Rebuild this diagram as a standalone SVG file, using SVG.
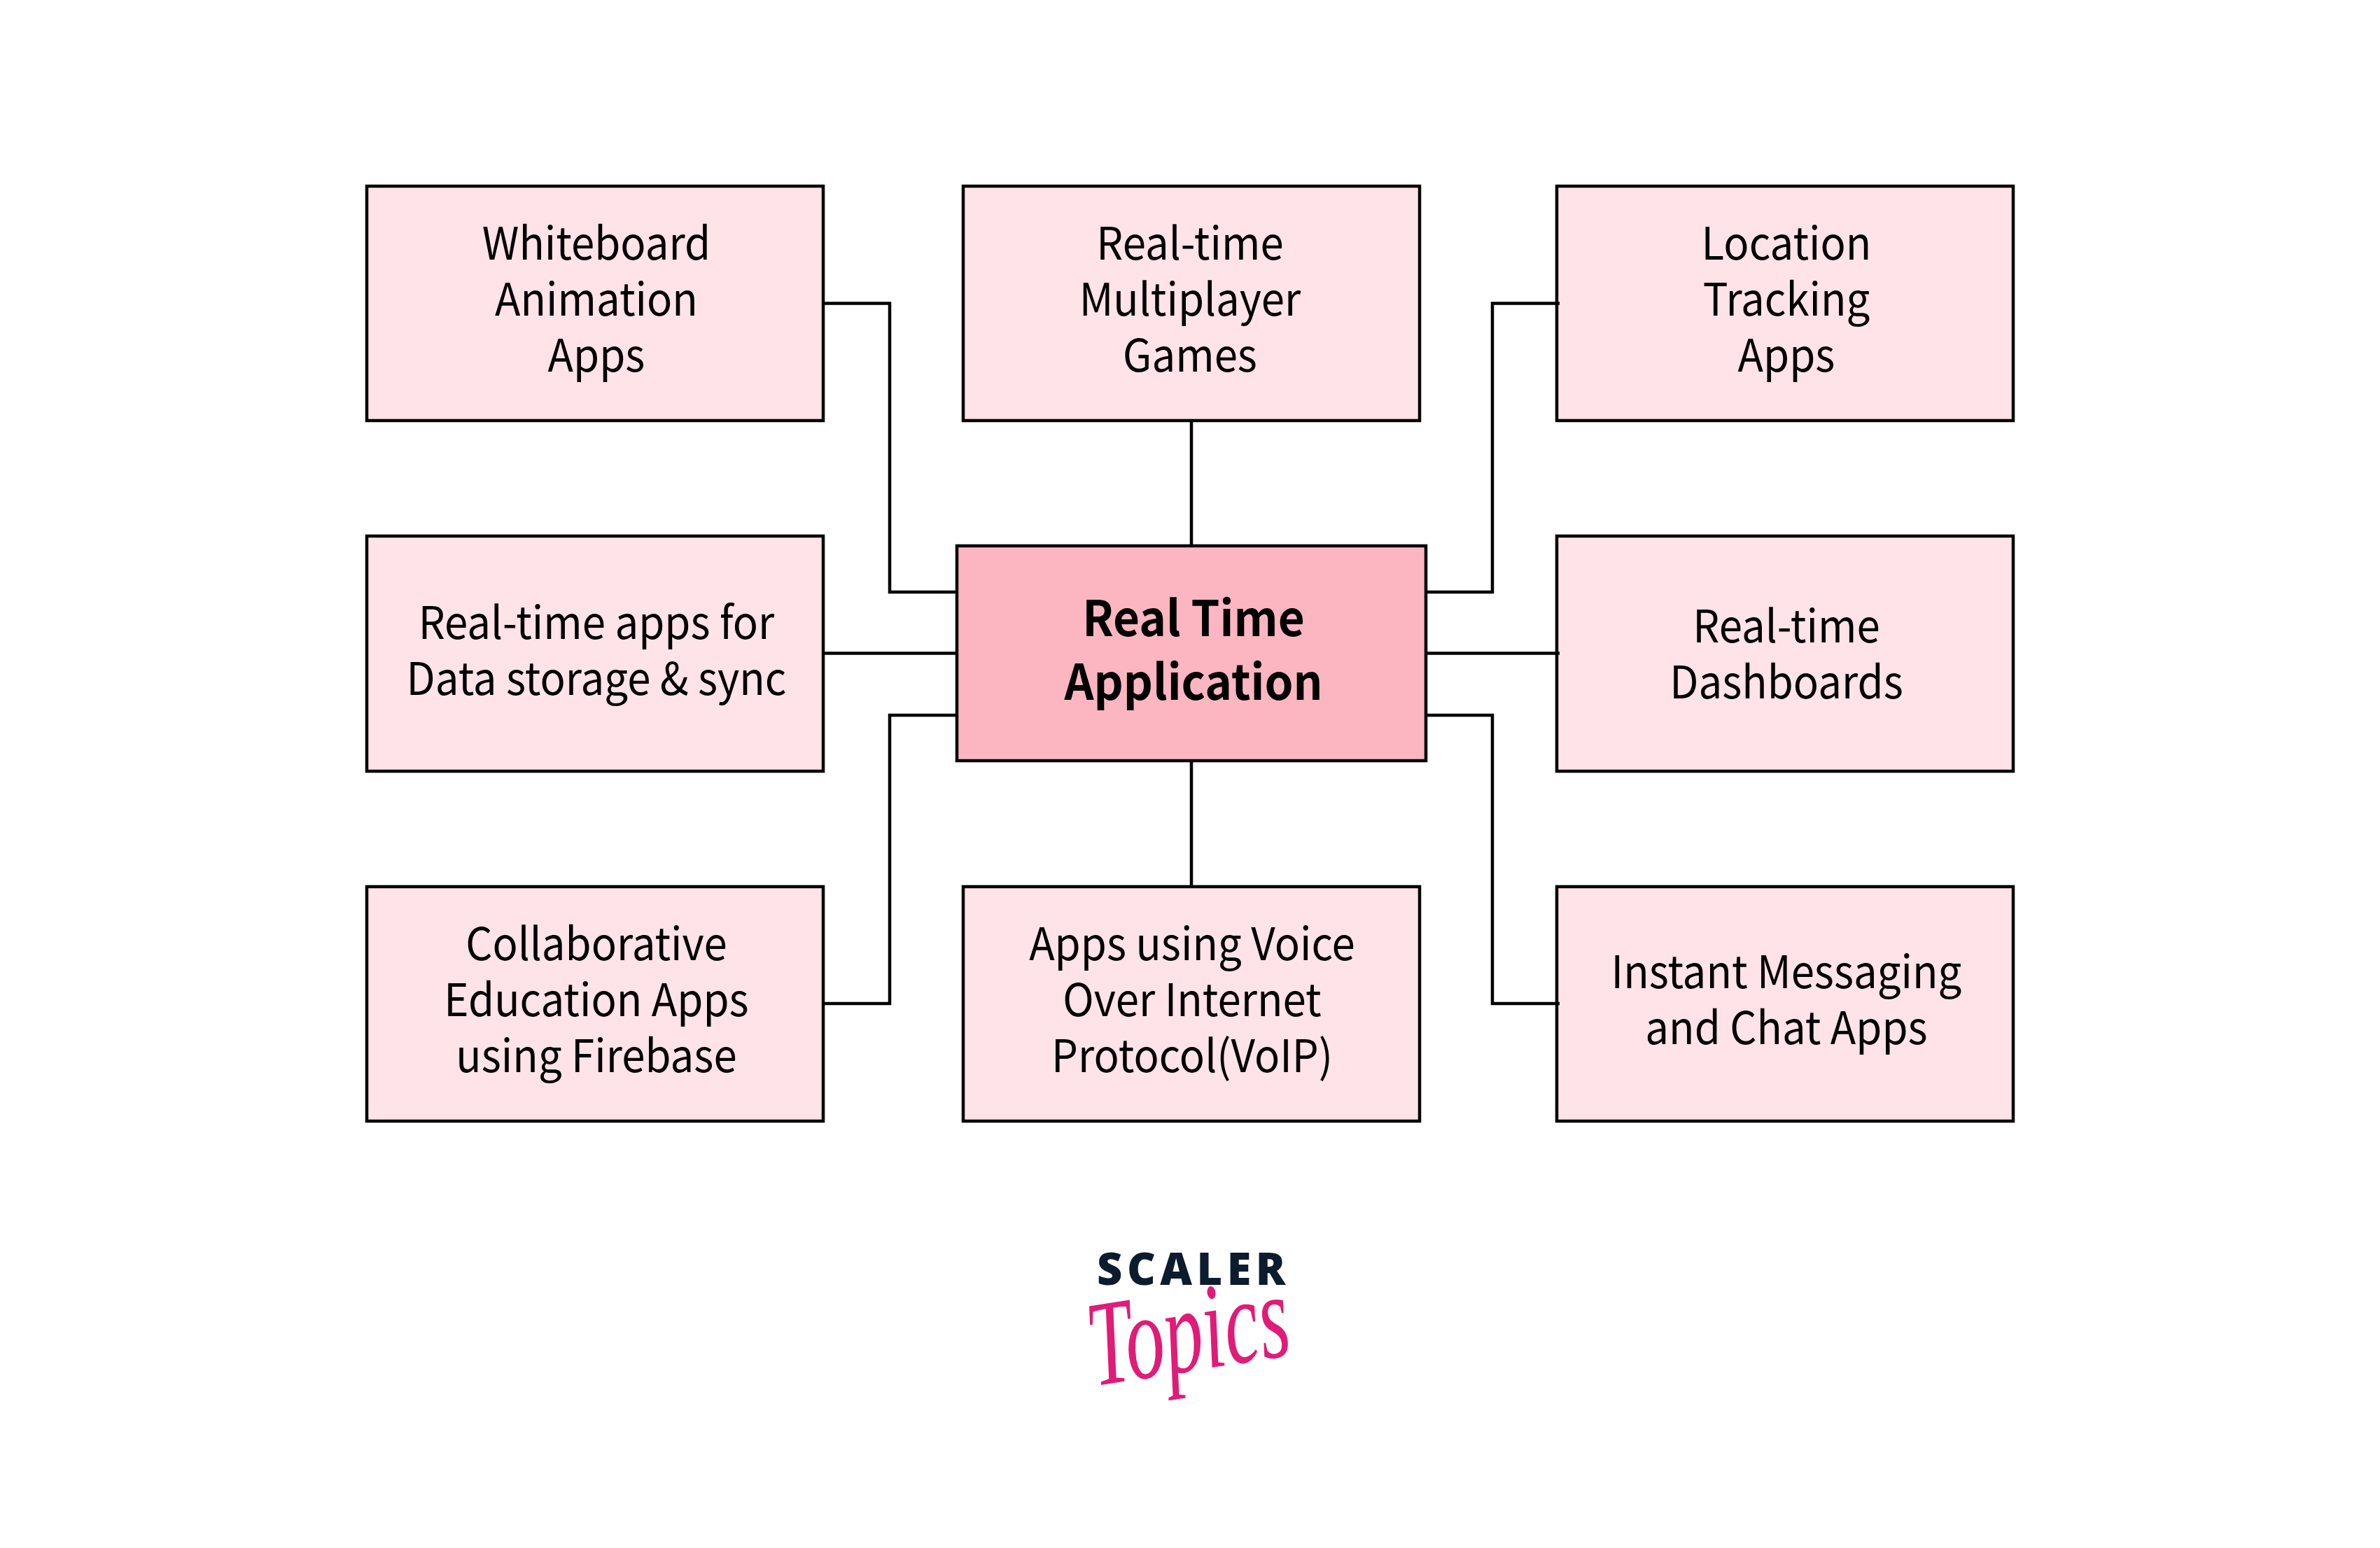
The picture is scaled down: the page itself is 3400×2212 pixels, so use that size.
<svg xmlns="http://www.w3.org/2000/svg" width="3400" height="2212" viewBox="0 0 3400 2212">
<style>
.n{fill:#fee3e8;stroke:#000;stroke-width:4.5}
.c{fill:#fbb6c1;stroke:#000;stroke-width:4.5}
.l{fill:none;stroke:#000;stroke-width:4.5}
text{font-family:"Noto Sans CJK SC","Noto Sans",sans-serif;font-size:64px;fill:#000;text-anchor:middle}
.b{font-size:70px;font-weight:700}
</style>
<rect width="3400" height="2212" fill="#fff"/>
<g id="n1"><rect class="n" x="524" y="266" width="652" height="335"/><text transform="translate(852 371) scale(.937 1)">Whiteboard</text><text transform="translate(852 451) scale(.937 1)">Animation</text><text transform="translate(852 531) scale(.937 1)">Apps</text></g>
<g id="n2"><rect class="n" x="1376" y="266" width="652" height="335"/><text transform="translate(1700 371) scale(.937 1)">Real-time</text><text transform="translate(1700 451) scale(.937 1)">Multiplayer</text><text transform="translate(1700 531) scale(.937 1)">Games</text></g>
<g id="n3"><rect class="n" x="2224" y="266" width="652" height="335"/><text transform="translate(2552 371) scale(.937 1)">Location</text><text transform="translate(2552 451) scale(.937 1)">Tracking</text><text transform="translate(2552 531) scale(.937 1)">Apps</text></g>
<g id="n4"><rect class="n" x="524" y="766" width="652" height="336"/><text transform="translate(852 913) scale(.937 1)">Real-time apps for</text><text transform="translate(852 993) scale(.937 1)">Data storage &amp; sync</text></g>
<g id="center"><rect class="c" x="1367" y="780" width="670" height="307"/><text class="b" transform="translate(1705 909) scale(.937 1)">Real Time</text><text class="b" transform="translate(1705 1000) scale(.937 1)">Application</text></g>
<g id="n5"><rect class="n" x="2224" y="766" width="652" height="336"/><text transform="translate(2552 918) scale(.937 1)">Real-time</text><text transform="translate(2552 998) scale(.937 1)">Dashboards</text></g>
<g id="n6"><rect class="n" x="524" y="1267" width="652" height="335"/><text transform="translate(852 1372) scale(.937 1)">Collaborative</text><text transform="translate(852 1452) scale(.937 1)">Education Apps</text><text transform="translate(852 1532) scale(.937 1)">using Firebase</text></g>
<g id="n7"><rect class="n" x="1376" y="1267" width="652" height="335"/><text transform="translate(1703 1372) scale(.937 1)">Apps using Voice</text><text transform="translate(1703 1452) scale(.937 1)">Over Internet</text><text transform="translate(1703 1532) scale(.937 1)">Protocol(VoIP)</text></g>
<g id="n8"><rect class="n" x="2224" y="1267" width="652" height="335"/><text transform="translate(2552 1412) scale(.937 1)">Instant Messaging</text><text transform="translate(2552 1492) scale(.937 1)">and Chat Apps</text></g>
<g id="connectors">
<path class="l" d="M1176 433.500H1271V846H1367"/>
<path class="l" d="M1176 933.500H1367"/>
<path class="l" d="M1176 1434H1271V1022H1367"/>
<path class="l" d="M1702 601V780"/>
<path class="l" d="M1702 1087V1267"/>
<path class="l" d="M2037 846H2132V433.500H2228"/>
<path class="l" d="M2037 933.500H2228"/>
<path class="l" d="M2037 1022H2132V1434H2228"/>
</g>
<g id="logo">
<text x="1705" y="1836" style="font-family:'Open Sans','Liberation Sans',sans-serif;font-size:63px;font-weight:800;letter-spacing:6.5px;fill:#0d1b2e">SCALER</text>
<text transform="translate(1706 1958) rotate(-9) scale(1 1.55)" style="font-family:'Liberation Serif',serif;font-style:italic;font-size:112px;fill:#e01b78">Topics</text>
</g>
</svg>
